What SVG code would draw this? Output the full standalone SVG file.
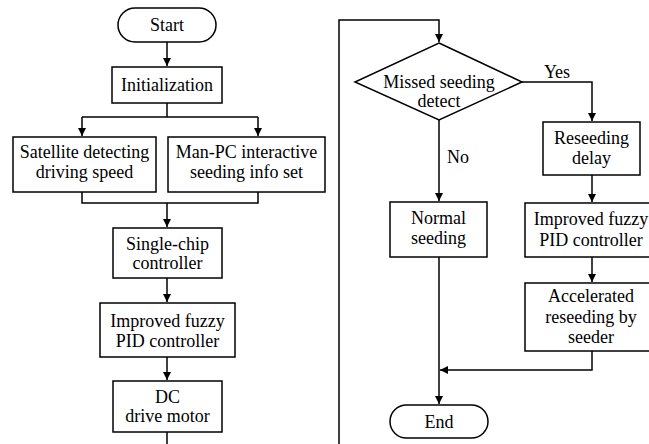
<svg xmlns="http://www.w3.org/2000/svg" width="649" height="444" viewBox="0 0 649 444">
<style>
.b{fill:#fff;stroke:#000;stroke-width:1.5}
.l{fill:none;stroke:#000;stroke-width:1.5}
text{font-family:"Liberation Serif",serif;font-size:18px;fill:#000;text-anchor:middle}
</style>
<defs>
<marker id="a" viewBox="0 0 10 10" refX="10" refY="5" markerWidth="8" markerHeight="10" markerUnits="userSpaceOnUse" orient="auto">
<path d="M0,0L10,5L0,10z" fill="#000"/>
</marker>
</defs>
<rect width="649" height="444" fill="#fff"/>
<g id="connectors">
<path class="l" d="M167,42V66" marker-end="url(#a)"/>
<path class="l" d="M167,103V117M82,117H258M82,117V136" marker-end="url(#a)"/>
<path class="l" d="M258,117V136" marker-end="url(#a)"/>
<path class="l" d="M82,192V203H258V192M167,203V227" marker-end="url(#a)"/>
<path class="l" d="M167,278V302" marker-end="url(#a)"/>
<path class="l" d="M167,357V380" marker-end="url(#a)"/>
<path class="l" d="M167,432V444"/>
<path class="l" d="M339,444V20H439V42" marker-end="url(#a)"/>
<path class="l" d="M522,82H592V121" marker-end="url(#a)"/>
<path class="l" d="M439,120V201" marker-end="url(#a)"/>
<path class="l" d="M592,175V202" marker-end="url(#a)"/>
<path class="l" d="M592,257V282" marker-end="url(#a)"/>
<path class="l" d="M592,351V370H440" marker-end="url(#a)"/>
<path class="l" d="M439,257V404" marker-end="url(#a)"/>
<text x="557" y="78">Yes</text>
<text x="458" y="163">No</text>
</g>
<g id="start"><rect class="b" x="118" y="8" width="98" height="34" rx="17"/><text x="167" y="31">Start</text></g>
<g id="init"><rect class="b" x="112" y="67" width="110" height="36"/><text x="167" y="91">Initialization</text></g>
<g id="satellite"><rect class="b" x="13" y="137" width="143" height="55"/><text x="84.5" y="158">Satellite detecting</text><text x="84.5" y="178">driving speed</text></g>
<g id="manpc"><rect class="b" x="168" y="137" width="157" height="55"/><text x="246.5" y="158">Man-PC interactive</text><text x="246.5" y="178">seeding info set</text></g>
<g id="singlechip"><rect class="b" x="113" y="228" width="109" height="50"/><text x="167.5" y="250">Single-chip</text><text x="167.5" y="269">controller</text></g>
<g id="fuzzy1"><rect class="b" x="100" y="303" width="135" height="54"/><text x="167.5" y="327">Improved fuzzy</text><text x="167.5" y="347">PID controller</text></g>
<g id="dcmotor"><rect class="b" x="113" y="381" width="109" height="51"/><text x="167.5" y="403">DC</text><text x="167.5" y="422">drive motor</text></g>
<g id="missed"><path class="b" d="M439,43L522,82L439,120L355,82Z"/><text x="439" y="88">Missed seeding</text><text x="439" y="107">detect</text></g>
<g id="reseeding"><rect class="b" x="543" y="122" width="97" height="53"/><text x="591.5" y="144">Reseeding</text><text x="591.5" y="164">delay</text></g>
<g id="normal"><rect class="b" x="390" y="202" width="97" height="55"/><text x="438.5" y="224">Normal</text><text x="438.5" y="244">seeding</text></g>
<g id="fuzzy2"><rect class="b" x="525" y="203" width="134" height="54"/><text x="591" y="225">Improved fuzzy</text><text x="591" y="246">PID controller</text></g>
<g id="accelerated"><rect class="b" x="525" y="283" width="134" height="68"/><text x="591" y="302">Accelerated</text><text x="591" y="323">reseeding by</text><text x="591" y="343">seeder</text></g>
<g id="end"><rect class="b" x="390" y="405" width="98" height="33" rx="16.5"/><text x="439" y="428">End</text></g>
</svg>
